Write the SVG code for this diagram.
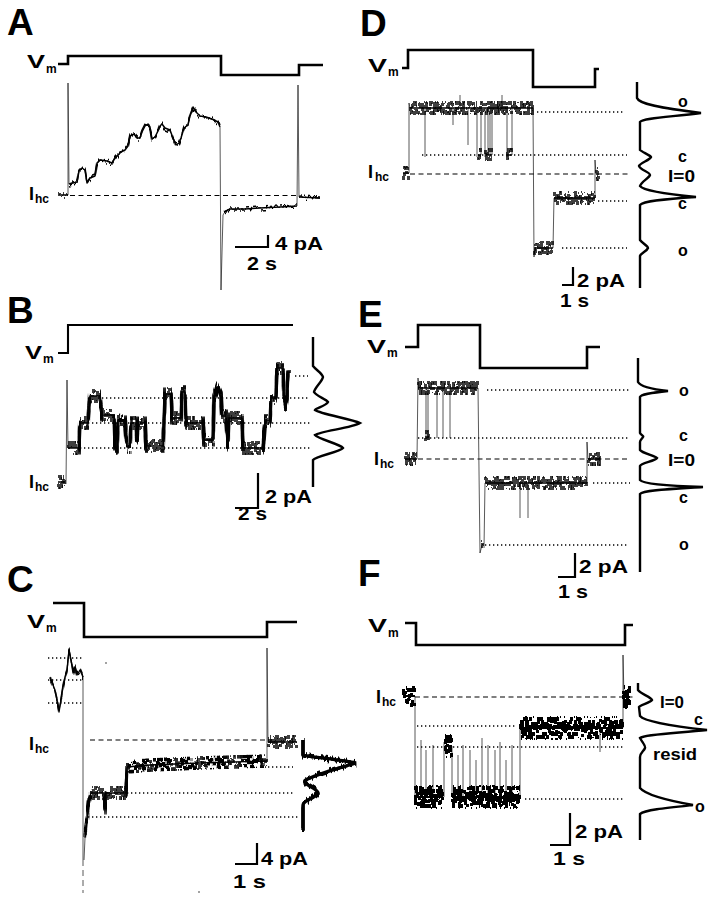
<svg xmlns="http://www.w3.org/2000/svg" width="709" height="900" viewBox="0 0 709 900">
<defs>
<style>
.vm{fill:none;stroke:#000;stroke-width:2.6;stroke-linejoin:miter}
.th{fill:none;stroke:#222;stroke-width:0.75}
.nz{fill:none;stroke:#000;stroke-width:1.6;stroke-linejoin:round}
.dot{fill:none;stroke:#000;stroke-width:1.3;stroke-dasharray:1.3 2.7}
.dash{fill:none;stroke:#000;stroke-width:1.2;stroke-dasharray:5 3.5}
.hist{fill:none;stroke:#000;stroke-width:2.4}
.bar{fill:none;stroke:#000;stroke-width:2.2}
text{font-family:"Liberation Sans",Arial,Helvetica,sans-serif;font-weight:bold;fill:#000}
.pl{font-size:37px}
.lb{font-size:18px}
.sb{font-size:12px}
.sc{font-size:18px}
.hl{font-size:16px}
</style>
<filter id="n1" filterUnits="userSpaceOnUse" x="0" y="0" width="709" height="900" color-interpolation-filters="sRGB">
<feTurbulence type="fractalNoise" baseFrequency="0.5 0.05" numOctaves="2" seed="2" result="t"/>
<feColorMatrix in="t" values="3 0 0 0 -1  0 0 0 0 0.5  0 0 0 0 0  0 0 0 0 1" result="m"/>
<feDisplacementMap in="SourceGraphic" in2="m" scale="5" xChannelSelector="G" yChannelSelector="R" result="d"/>
<feMerge><feMergeNode in="SourceGraphic"/><feMergeNode in="d"/></feMerge>
</filter>
<filter id="n2" filterUnits="userSpaceOnUse" x="0" y="0" width="709" height="900" color-interpolation-filters="sRGB">
<feTurbulence type="fractalNoise" baseFrequency="0.7 0.05" numOctaves="2" seed="7" result="t1"/>
<feColorMatrix in="t1" values="4 0 0 0 -1.5  0 0 0 0 0.5  0 0 0 0 0  0 0 0 0 1" result="m1"/>
<feDisplacementMap in="SourceGraphic" in2="m1" scale="10" xChannelSelector="G" yChannelSelector="R" result="d1"/>
<feMorphology in="d1" operator="dilate" radius="1 1" result="e1"/>
<feTurbulence type="fractalNoise" baseFrequency="0.9 0.05" numOctaves="2" seed="19" result="t2"/>
<feColorMatrix in="t2" values="4 0 0 0 -1.5  0 0 0 0 0.5  0 0 0 0 0  0 0 0 0 1" result="m2"/>
<feDisplacementMap in="SourceGraphic" in2="m2" scale="12" xChannelSelector="G" yChannelSelector="R" result="d2"/>
<feMerge><feMergeNode in="SourceGraphic"/><feMergeNode in="e1"/><feMergeNode in="d2"/></feMerge>
</filter>
<filter id="n3" filterUnits="userSpaceOnUse" x="0" y="0" width="709" height="900" color-interpolation-filters="sRGB">
<feTurbulence type="fractalNoise" baseFrequency="0.7 0.04" numOctaves="2" seed="11" result="t1"/>
<feColorMatrix in="t1" values="4 0 0 0 -1.5  0 0 0 0 0.5  0 0 0 0 0  0 0 0 0 1" result="m1"/>
<feDisplacementMap in="SourceGraphic" in2="m1" scale="18" xChannelSelector="G" yChannelSelector="R" result="d1"/>
<feMorphology in="d1" operator="dilate" radius="1 1" result="e1"/>
<feTurbulence type="fractalNoise" baseFrequency="0.9 0.04" numOctaves="2" seed="23" result="t2"/>
<feColorMatrix in="t2" values="4 0 0 0 -1.5  0 0 0 0 0.5  0 0 0 0 0  0 0 0 0 1" result="m2"/>
<feDisplacementMap in="SourceGraphic" in2="m2" scale="22" xChannelSelector="G" yChannelSelector="R" result="d2"/>
<feTurbulence type="fractalNoise" baseFrequency="0.6 0.04" numOctaves="2" seed="31" result="t3"/>
<feColorMatrix in="t3" values="4 0 0 0 -1.5  0 0 0 0 0.5  0 0 0 0 0  0 0 0 0 1" result="m3"/>
<feDisplacementMap in="SourceGraphic" in2="m3" scale="12" xChannelSelector="G" yChannelSelector="R" result="d3"/>
<feMorphology in="d3" operator="dilate" radius="1 1" result="e3"/>
<feMerge><feMergeNode in="SourceGraphic"/><feMergeNode in="e1"/><feMergeNode in="d2"/><feMergeNode in="e3"/></feMerge>
</filter>
</defs>
<rect width="709" height="900" fill="#fff"/>

<g id="panelA">
<text class="pl" x="7" y="35">A</text>
<text class="lb" x="27" y="68" textLength="18" lengthAdjust="spacingAndGlyphs">V</text><text class="sb" x="46" y="73">m</text>
<text class="lb" x="29" y="200">I</text><text class="sb" x="35" y="203">hc</text>
<path class="vm" d="M58,64 H68 V56 H221 V75 H299 V65 H323"/>
<path class="dash" d="M70,195.5 H300"/>
<path class="th" d="M68,195 V83 L69,184 M220,127 L221,290 L223,215 L226,210 M297,206 L298,85 L299,197"/>
<g filter="url(#n1)"><path class="nz" style="stroke-width:1.5" d="M58,195 L68,195 M69,184 L73,183 L77,182 L79,171 L82,168 L85,170 L87,183 L90,178 L95,176 L97,163 L100,160 L107,161 L112,163 L115,158 L118,155 L121,152 L125,150 L128,146 L130,136 L134,134 L137,138 L140,138 L142,132 L145,126 L148,124 L150,127 L152,139 L155,137 L158,131 L160,126 L162,124 L165,128 L170,130 L173,138 L176,145 L179,143 L181,138 L184,128 L188,125 L190,115 L193,107 L196,112 L200,116 L206,117 L212,119 L218,122 L220,127 M224,212 L230,209 L245,209 L260,208 L280,207 L297,206 M299,197 L320,198"/></g>
<path class="bar" d="M235,247 H268 V235"/>
<text class="sc" x="275" y="250" textLength="48" lengthAdjust="spacingAndGlyphs">4 pA</text>
<text class="sc" x="247" y="270" textLength="30" lengthAdjust="spacingAndGlyphs">2 s</text>
</g>

<g id="panelB">
<text class="pl" x="7" y="323">B</text>
<text class="lb" x="25" y="359" textLength="17" lengthAdjust="spacingAndGlyphs">V</text><text class="sb" x="43" y="363">m</text>
<text class="lb" x="29" y="488">I</text><text class="sb" x="35" y="491">hc</text>
<path class="vm" style="stroke-width:2.1" d="M58,353 H68 V325 H293"/>
<path class="dot" d="M295,376 H308 M102,398 H310 M88,423 H310 M80,448 H310"/>
<path class="th" d="M66,484 L67,380 L68,448"/>
<g filter="url(#n2)"><path class="nz" d="M58,482 L65,482 M68,448 L79,448 L80,423 L88,423 L90,396 L100,396 L102,415 L114,415 L115,448 L117,448 L118,420 L125,422 L127,447 L130,447 L131,423 L136,423 L137,440 L138,423 L145,423 L146,446 L163,446 L165,394 L171,394 L172,418 L181,418 L182,392 L185,392 L186,423 L203,423 L204,440 L213,440 L214,398 L217,388 L221,398 L222,416 L226,416 L228,445 L229,418 L242,418 L243,448 L263,448 L265,421 L270,421 L271,398 L276,398 L277,368 L283,368 L284,395 L286,405 L287,395 L288,372 L290,372"/></g>
<path class="hist" d="M313,337 L313,366 C316,370 322,373 323,377 C322,382 315,387 314,392 C316,396 326,399 328,402 C326,406 316,408 315,410 C320,414 352,419 360,423 C352,428 320,431 315,435 C318,439 340,444 343,448 C340,452 316,456 313,460 L313,487"/>
<path class="bar" d="M235,508 H258 V473"/>
<text class="sc" x="265" y="503" textLength="47" lengthAdjust="spacingAndGlyphs">2 pA</text>
<text class="sc" x="238" y="520" textLength="29" lengthAdjust="spacingAndGlyphs">2 s</text>
</g>

<g id="panelC">
<text class="pl" x="7" y="592">C</text>
<text class="lb" x="27" y="628" textLength="18" lengthAdjust="spacingAndGlyphs">V</text><text class="sb" x="46" y="632">m</text>
<text class="lb" x="29" y="750">I</text><text class="sb" x="35" y="753">hc</text>
<path class="vm" d="M53,603 H84 V637 H267 V622 H297"/>
<path class="dot" d="M48,658 H83 M48,680 H83 M48,703 H83 M268,767 H293 M127,793 H295 M88,817 H298"/>
<path class="dash" d="M90,740 H267"/>
<path class="th" d="M83,677 V860 M84,860 L85,838 M267,761 L267,648 L268,742"/>
<path class="th" style="stroke-dasharray:6 4" d="M83,860 V893"/>
<g filter="url(#n1)"><path class="nz" style="stroke-width:1.4" d="M50,677 L53,685 L55,690 L57,700 L59,712 L61,700 L63,687 L65,677 L67,670 L69,650 L71,660 L73,673 L75,667 L77,675 L80,670 L83,677"/></g>
<g filter="url(#n2)"><path class="nz" style="stroke-width:1.3" d="M85,838 L87,818 L89,800 L91,793 L104,793 L105,808 L106,793 L126,793 L127,767 L150,765 L200,763 L267,761 M268,742 L297,742"/></g>
<g filter="url(#n1)"><path class="hist" style="stroke-width:3.4" d="M303,740 L303,755 C308,757 330,758 356,763 C340,768 315,774 306,780 C300,784 318,788 318,793 C316,798 303,800 303,805 L303,830"/></g>
<circle cx="106" cy="663" r="0.7"/>
<circle cx="199" cy="892" r="0.7"/>
<path class="bar" d="M235,864 H257 V843"/>
<text class="sc" x="261" y="865" textLength="47" lengthAdjust="spacingAndGlyphs">4 pA</text>
<text class="sc" x="233" y="888" textLength="33" lengthAdjust="spacingAndGlyphs">1 s</text>
</g>

<g id="panelD">
<text class="pl" x="360" y="36">D</text>
<text class="lb" x="368" y="72" textLength="19" lengthAdjust="spacingAndGlyphs">V</text><text class="sb" x="388" y="76">m</text>
<text class="lb" x="368" y="178">I</text><text class="sb" x="375" y="181">hc</text>
<path class="vm" d="M402,68 H408 V50 H533 V87 H595 V69 H599"/>
<path class="dot" d="M537,112 H625 M422,155 H627 M598,201 H627 M562,248 H627"/>
<path class="dash" d="M410,174 H628"/>
<path class="th" d="M409,173 L409,103 L410,108 M425,108 V157 M453,108 V125 M468,108 V145 M460,108 V95 M477,108 V157 M481,155 V108 M485,108 V157 M488,155 V108 M490,108 V157 M492,155 V108 M502,108 V95 M507,108 V157 M512,155 V108 M533,108 L534,257 L535,248 M553,248 L554,198 M595,198 L595,160 L596,174"/>
<g filter="url(#n2)"><path class="nz" d="M403,173 L409,173 M410,108 L533,108 M478,155 L481,155 M485,155 L492,155 M507,155 L512,155 M534,248 L553,248 M554,198 L595,198 M596,174 L599,174"/></g>
<path class="hist" d="M637,82 L637,98 C639,104 660,108 701,113 C670,117 643,118 640,122 L640,150 C642,152 650,155 651,157 C650,160 640,163 639,166 C640,170 650,172 650,175 C649,178 641,182 640,186 C643,190 665,194 696,197 C665,199 643,201 640,205 L640,240 C642,243 648,246 648,248 C647,251 641,253 640,256 L640,288"/>
<text class="hl" x="678" y="107">o</text>
<text class="hl" x="678" y="162">c</text>
<text class="hl" x="668" y="182" textLength="27" lengthAdjust="spacingAndGlyphs">I=0</text>
<text class="hl" x="678" y="209">c</text>
<text class="hl" x="678" y="256">o</text>
<path class="bar" d="M562,285 H573 V267"/>
<text class="sc" x="577" y="287" textLength="48" lengthAdjust="spacingAndGlyphs">2 pA</text>
<text class="sc" x="560" y="307" textLength="29" lengthAdjust="spacingAndGlyphs">1 s</text>
</g>

<g id="panelE">
<text class="pl" x="358" y="327">E</text>
<text class="lb" x="367" y="353" textLength="19" lengthAdjust="spacingAndGlyphs">V</text><text class="sb" x="387" y="357">m</text>
<text class="lb" x="374" y="465">I</text><text class="sb" x="380" y="468">hc</text>
<path class="vm" d="M405,347 H418 V325 H480 V368 H587 V347 H600"/>
<path class="dot" d="M487,390 H630 M418,438 H628 M593,483 H630 M485,545 H627"/>
<path class="dash" d="M418,459 H630"/>
<path class="th" d="M417,459 L418,378 L419,388 M426,388 V438 M428,388 V440 M437,388 V438 M443,388 V438 M450,388 V438 M478,388 L480,553 L482,545 M484,548 L485,483 M520,483 V518 M528,483 V518 M587,483 L587,442 L588,459"/>
<g filter="url(#n2)"><path class="nz" d="M405,459 L417,459 M418,388 L478,388 M425,437 L429,437 M481,547 L483,547 M485,483 L587,483 M588,459 L600,459"/></g>
<path class="hist" d="M638,358 L638,382 C640,386 650,389 668,391 C650,393 641,394 640,397 L640,433 C641,435 644,436 643,437 C642,439 640,440 640,442 L640,450 C642,453 655,456 657,458 C655,461 641,463 640,466 L640,480 C643,484 670,486 703,487 C670,489 643,490 640,494 L640,572"/>
<text class="hl" x="679" y="396">o</text>
<text class="hl" x="679" y="441">c</text>
<text class="hl" x="668" y="466" textLength="27" lengthAdjust="spacingAndGlyphs">I=0</text>
<text class="hl" x="679" y="503">c</text>
<text class="hl" x="679" y="550">o</text>
<path class="bar" d="M558,577 H575 V553"/>
<text class="sc" x="579" y="573" textLength="49" lengthAdjust="spacingAndGlyphs">2 pA</text>
<text class="sc" x="558" y="598" textLength="30" lengthAdjust="spacingAndGlyphs">1 s</text>
</g>

<g id="panelF">
<text class="pl" x="358" y="586">F</text>
<text class="lb" x="368" y="632" textLength="19" lengthAdjust="spacingAndGlyphs">V</text><text class="sb" x="388" y="637">m</text>
<text class="lb" x="376" y="703">I</text><text class="sb" x="382" y="706">hc</text>
<path class="vm" d="M405,623 H416 V645 H625 V625 H633"/>
<path class="dash" d="M415,697 H633"/>
<path class="dot" d="M417,726 H517 M417,747 H623 M525,799 H623"/>
<path class="th" d="M415,696 L415,803 M421,797 V740 M426,797 V750 M433,797 V745 M444,797 V742 M452,746 V797 M458,797 V755 M463,797 V745 M470,797 V750 M476,797 V760 M482,797 V738 M488,797 V745 M495,797 V750 M500,797 V742 M506,797 V760 M512,797 V745 M520,797 V728 M600,728 V752 M623,728 L623,655 L624,697"/>
<g filter="url(#n3)"><path class="nz" style="stroke-width:2" d="M403,696 L415,696 M415,797 L443,797 M445,746 L452,746 M452,797 L520,797 M520,728 L623,728 M623,697 L630,697"/></g>
<path class="hist" d="M638,683 L638,690 C641,694 651,697 652,700 C650,703 640,705 639,707 L640,716 C645,722 680,727 707,730 C680,733 645,734 640,738 C642,742 646,746 645,748 C644,751 640,753 640,757 L640,788 C645,794 665,800 693,805 C665,808 645,810 640,814 L640,840"/>
<text class="hl" x="660" y="708" textLength="24" lengthAdjust="spacingAndGlyphs">I=0</text>
<text class="hl" x="694" y="725">c</text>
<text class="hl" x="653" y="760" textLength="44" lengthAdjust="spacingAndGlyphs">resid</text>
<text class="hl" x="695" y="812">o</text>
<path class="bar" d="M550,845 H570 V813"/>
<text class="sc" x="575" y="838" textLength="48" lengthAdjust="spacingAndGlyphs">2 pA</text>
<text class="sc" x="553" y="865" textLength="32" lengthAdjust="spacingAndGlyphs">1 s</text>
</g>
</svg>
